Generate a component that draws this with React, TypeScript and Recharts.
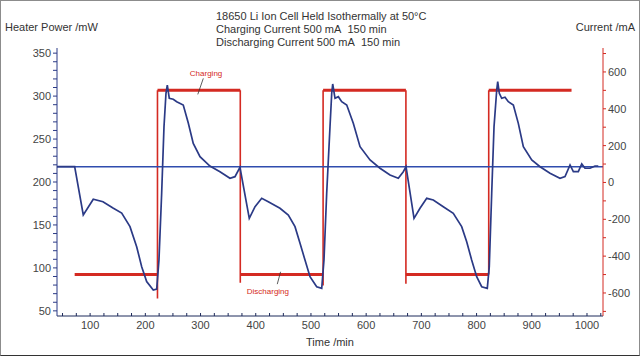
import { LineChart, Line, XAxis, YAxis, ReferenceLine, ReferenceDot } from 'recharts'

// heater power trace (time min, power mW)
const powerTime = [
  40, 72, 87.6, 105.7, 123.3, 141.4, 157.2, 172.2, 184.3, 193.4, 202.4, 214.4, 220.6, 224.7, 229.6, 233.8, 237.4, 239.8,
  243.4, 250.6, 256.8, 268.7, 277.8, 286.8, 299, 317, 335.2, 353.3, 362.4, 371.4,
  388.3, 398.7, 410.8, 422.7, 443.9, 459, 471.1, 480.2, 489.2, 498.3, 510.4, 519.5, 523.6, 528.5, 534.5, 537.6, 539.4,
  543.6, 549.6, 555.7, 564.8, 576.7, 588.9, 607, 625.1, 643.2, 658.2, 667.3, 672.2,
  686.7, 697.5, 709.7, 721.6, 739.7, 757.8, 773, 782.1, 791.1, 800.2, 809.3, 819.4, 823, 827.4, 831.6, 836.5, 838.3,
  841.2, 845.5, 851.5, 857.5, 866.6, 875.6, 884.7, 899.9, 915, 933, 951.1, 960.2, 969.3, 975.3, 984.3, 990.5, 996.4,
  1005.5, 1014.5, 1020.5,
]
const powerMw = [
  218, 218, 161.6, 179.9, 177.1, 169.7, 163.9, 148, 124.7, 101.4, 84, 74.3, 75.4, 109.2, 187.2, 264.4, 303.3, 312.9,
  297.4, 296.3, 293.5, 289.6, 268.7, 245, 229.5, 218.6, 212, 204.3, 206.2, 217.1,
  157.7, 171.2, 181, 177.1, 169.4, 161.6, 148, 128.6, 109.2, 89.7, 78.1, 76.2, 109.2, 186.8, 264.4, 303.3, 314.1,
  297.4, 299.3, 293.5, 289.6, 268.3, 241.1, 225.6, 216, 208.1, 204.3, 212, 217.8,
  157.7, 169.4, 181, 179, 171.2, 163.6, 148, 130.5, 109.2, 89.7, 78.1, 76.2, 101.4, 186.8, 264.4, 307.1, 316.8,
  303.3, 297.4, 298.6, 293.5, 289.6, 268.3, 241.1, 225.6, 217.8, 210.1, 204.3, 206.2, 219.8, 212, 212, 221, 216,
  216, 218.6, 218.6,
]

// flat heater baseline
const baselineTime = [40, 1029]
const baselineMw = [217.8, 217.8]

// current program: switching times, level between them, lowest point of each switching spike
const switchTimes = [72, 222, 372, 522, 672, 822, 972]
const currentLevels = [-500, 500, -500, 500, -500, 500]
const spikeLow = [-630, -545, -560, -550, -500]

const xLabels = [100, 200, 300, 400, 500, 600, 700, 800, 900, 1000]
const leftLabels = [50, 100, 150, 200, 250, 300, 350]
const rightLabels = [-600, -400, -200, 0, 200, 400, 600]

const xTicks: number[] = []
for (let v = 50; v <= 1025; v += 25) xTicks.push(v)
const leftTicks: number[] = []
for (let v = 50; v <= 350; v += 10) leftTicks.push(v)
const rightTicks: number[] = []
for (let v = -700; v <= 700; v += 100) rightTicks.push(v)

const powerData = powerTime.map((t, i) => ({ t, p: powerMw[i] }))
const baselineData = baselineTime.map((t, i) => ({ t, p: baselineMw[i] }))

const levelData: { t: number; c: number | null }[] = []
currentLevels.forEach((c, i) => {
  levelData.push({ t: switchTimes[i], c })
  levelData.push({ t: switchTimes[i + 1], c })
  levelData.push({ t: switchTimes[i + 1], c: null })
})
const spikeData: { t: number; c: number | null }[] = []
spikeLow.forEach((low, i) => {
  spikeData.push({ t: switchTimes[i + 1], c: low })
  spikeData.push({ t: switchTimes[i + 1], c: 500 })
  spikeData.push({ t: switchTimes[i + 1], c: null })
})

const FONT = 'Arial, "Liberation Sans", sans-serif'
const NAVY = '#2B3A86'
const BLUE = '#2F4DAE'
const RED = '#D42A22'
const TXT = '#444'

export default function App() {
  return (
    <div style={{ position: 'absolute', left: 0, top: 0, width: 640, height: 357, background: '#fff', fontFamily: FONT }}>
      <div style={{ position: 'absolute', left: 0, top: 0, width: 640, height: 356, boxSizing: 'border-box', border: '1px solid #8c8c8c', borderBottom: '1px solid #333' }} />
      <div style={{ position: 'absolute', left: 216, top: 10, fontSize: 11, lineHeight: '13px', color: '#333' }}>
        <div>18650 Li Ion Cell Held Isothermally at 50°C</div>
        <div>Charging Current 500 mA&nbsp;&nbsp;150 min</div>
        <div>Discharging Current 500 mA&nbsp;&nbsp;150 min</div>
      </div>
      <div style={{ position: 'absolute', left: 5, top: 21, fontSize: 11, color: '#333' }}>Heater Power /mW</div>
      <div style={{ position: 'absolute', right: 5, top: 21, fontSize: 11, color: '#333' }}>Current /mA</div>
      <LineChart width={640} height={357} margin={{ top: 48, right: 0, bottom: 0, left: 0 }} style={{ position: 'absolute', left: 0, top: 0 }}>
        <XAxis
          dataKey="t" type="number" domain={[40, 1029]} allowDataOverflow ticks={xTicks} interval={0}
          tickFormatter={(v) => (xLabels.includes(v) ? String(v) : '')}
          height={41} stroke="#1d2a5a" tickSize={-3} tickMargin={8}
          tick={{ fill: TXT, fontSize: 11, fontFamily: FONT }}
          label={{ value: 'Time /min', position: 'insideBottom', offset: 11, fill: '#333', fontSize: 11, fontFamily: FONT }}
        />
        <YAxis
          yAxisId="left" orientation="left" type="number" domain={[44, 356]} allowDataOverflow ticks={leftTicks} interval={0}
          tickFormatter={(v) => (leftLabels.includes(v) ? String(v) : '')}
          width={57} stroke={NAVY} tickSize={4} tickMargin={2}
          tick={{ fill: TXT, fontSize: 11, fontFamily: FONT }}
        />
        <YAxis
          yAxisId="right" orientation="right" type="number" domain={[-725, 730]} allowDataOverflow ticks={rightTicks} interval={0}
          tickFormatter={(v) => (rightLabels.includes(v) ? String(v) : '')}
          width={37} stroke={RED} tickSize={3} tickMargin={2}
          tick={{ fill: TXT, fontSize: 11, fontFamily: FONT }}
        />
        <Line yAxisId="right" data={levelData} dataKey="c" stroke={RED} strokeWidth={3} dot={false} isAnimationActive={false} connectNulls={false} />
        <Line yAxisId="right" data={spikeData} dataKey="c" stroke={RED} strokeWidth={1.6} dot={false} isAnimationActive={false} connectNulls={false} />
        <Line yAxisId="left" data={baselineData} dataKey="p" stroke={BLUE} strokeWidth={1.6} dot={false} isAnimationActive={false} />
        <Line yAxisId="left" data={powerData} dataKey="p" stroke={NAVY} strokeWidth={1.7} dot={false} isAnimationActive={false} />
        <ReferenceLine yAxisId="right" segment={[{ x: 305, y: 565 }, { x: 295, y: 478 }]} stroke="#333" strokeWidth={0.8} />
        <ReferenceLine yAxisId="right" segment={[{ x: 439, y: -552 }, { x: 445, y: -485 }]} stroke="#333" strokeWidth={0.8} />
        <ReferenceDot yAxisId="right" x={310} y={594} r={0} stroke="none" label={{ value: 'Charging', fill: RED, fontSize: 8, fontFamily: FONT, position: 'center' }} />
        <ReferenceDot yAxisId="right" x={422} y={-588} r={0} stroke="none" label={{ value: 'Discharging', fill: RED, fontSize: 8, fontFamily: FONT, position: 'center' }} />
      </LineChart>
    </div>
  )
}
